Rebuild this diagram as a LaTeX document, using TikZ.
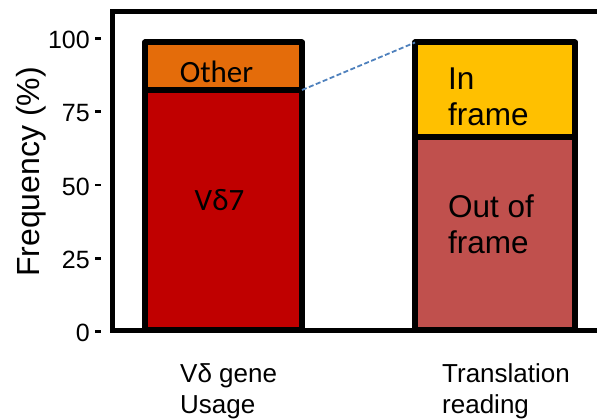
\documentclass[tikz,border=0pt]{standalone}
\usepackage{xcolor}
\usepackage{fontspec}
\setmainfont{Liberation Sans}
\newfontfamily\calibrifont{Carlito}
\usepackage{tikz}
\usetikzlibrary{calc,positioning}
\definecolor{otherorange}{HTML}{E46C0A}
\definecolor{vdred}{HTML}{C00000}
\definecolor{inyellow}{HTML}{FFC000}
\definecolor{outred}{HTML}{C0504D}
\definecolor{linkblue}{HTML}{4F81BD}
\tikzset{
	x=1pt,y=-1pt,
	axisline/.style={line width=5pt},
	tickmark/.style={line width=2.5pt},
	barseg/.style={draw=black, line width=6pt, line join=round},
	link/.style={draw=linkblue, line width=1.8pt, dash pattern=on 5pt off 2.5pt},
	ticklab/.style={anchor=east, inner sep=0pt, font=\fontsize{25}{30}\selectfont},
	seglab/.style={anchor=base west, inner sep=0pt, align=left, font=\fontsize{31.5}{35.5}\selectfont},
	catlab/.style={anchor=base west, inner sep=0pt, align=left, font=\fontsize{26}{31}\selectfont},
	callab/.style={anchor=base, inner sep=0pt, font=\calibrifont\fontsize{31}{36}\selectfont}
}

\begin{document}
\begin{tikzpicture}
    \clip (0,0) rectangle (597,420);

    \draw[barseg, fill=vdred] (145,330) rectangle (302,90);
    \draw[barseg, fill=otherorange] (145,90) rectangle (302,42.5);
    \draw[barseg, fill=outred] (415,330) rectangle (575,137);
    \draw[barseg, fill=inyellow] (415,137) rectangle (575,42.5);

    \draw[axisline] (640,11.5) -- (112,11.5) -- (112,330) -- (640,330);

    \foreach \v in {0,25,50,75,100} {
        \draw[tickmark] (95,{331.7-2.934*\v}) -- (101,{331.7-2.934*\v});
        \node[ticklab] (t\v) at (90,{333.2-2.934*\v}) {\v};
    }

    \coordinate (otherse) at (302,90);
    \coordinate (inframenw) at (415,42.5);
    \path[link] (otherse) -- (inframenw);

    \node[rotate=90, inner sep=0pt, font=\fontsize{32}{36}\selectfont] (ylab) at (31,172) {Frequency (\%)};

    \node[callab] (other) at (216.5,82) {Other};
    \node[callab] (vd7) at (219.5,210) {Vδ7};
    \node[seglab] (inframe) at (448,125) {In\\frame};
    \node[seglab] (outframe) at (448,253) {Out of\\frame};

    \node[catlab] (usage) at (180,413) {Vδ gene\\Usage};
    \node[catlab] (reading) at (442,413) {Translation\\reading};
\end{tikzpicture}
\end{document}
